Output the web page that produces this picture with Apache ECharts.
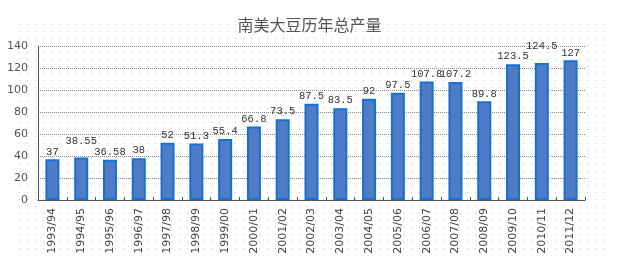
<!DOCTYPE html>
<html><head><meta charset="utf-8">
<script src="https://cdn.jsdelivr.net/npm/echarts@6/dist/echarts.min.js"></script>
<style>html,body{margin:0;padding:0;background:#fff}#c{width:619px;height:258px}</style>
</head><body><div id="c"></div>
<script>
var categories = ['1993/94','1994/95','1995/96','1996/97','1997/98','1998/99','1999/00','2000/01','2001/02','2002/03','2003/04','2004/05','2005/06','2006/07','2007/08','2008/09','2009/10','2010/11','2011/12'];
var production = [37,38.55,36.58,38,52,51.3,55.4,66.8,73.5,87.5,83.5,92,97.5,107.8,107.2,89.8,123.5,124.5,127];
var yTicks = [0,20,40,60,80,100,120,140];

// raise the middle label of a cluster of three close values (avoids overlapping texts)
var raise = production.map(function(){ return false; });
for (var i = 1; i < production.length - 1; i++) {
  if (!raise[i - 1] && Math.abs(production[i] - production[i - 1]) < 4 && Math.abs(production[i] - production[i + 1]) < 4) {
    raise[i] = true;
  }
}

var pc = document.createElement('canvas');
pc.width = 8; pc.height = 7;
var g = pc.getContext('2d');
g.fillStyle = '#c8c8c8';
g.fillRect(3, 3, 1, 1);

var chart = echarts.init(document.getElementById('c'), null, {renderer: 'canvas'});
chart.setOption({
  backgroundColor: '#fff',
  animation: false,
  graphic: [{
    type: 'rect', z: -10, silent: true,
    shape: {x: 12, y: 18, width: 594, height: 234},
    style: {fill: {image: pc, repeat: 'repeat'}}
  }],
  title: {
    text: '南美大豆历年总产量',
    left: 'center', top: 12,
    textStyle: {fontFamily: 'Noto Sans CJK SC', fontSize: 16, fontWeight: 'normal', color: '#555'}
  },
  grid: {left: 38, right: 34, top: 46, bottom: 58, containLabel: false},
  xAxis: {
    type: 'category', data: categories,
    axisLine: {lineStyle: {color: '#555', width: 1}},
    axisTick: {show: true, inside: true, length: 3, lineStyle: {color: '#555'}},
    axisLabel: {rotate: 90, interval: 0, fontSize: 11, color: '#444', fontFamily: 'DejaVu Sans', margin: 8}
  },
  yAxis: {
    type: 'value', min: 0, max: 140, interval: 20,
    axisLine: {show: true, lineStyle: {color: '#555'}},
    axisTick: {show: false},
    splitLine: {lineStyle: {type: 'dotted', color: '#888', width: 1}},
    axisLabel: {fontSize: 11, color: '#555', fontFamily: 'DejaVu Sans', margin: 10,
      formatter: function(v){ return yTicks.indexOf(v) >= 0 ? String(v) : ''; }}
  },
  series: [{
    type: 'bar', data: production, barWidth: 14,
    itemStyle: {color: '#4f7cc4', borderColor: '#1570d8', borderWidth: 2},
    label: {show: true, position: 'top', distance: 2, fontSize: 10.5, color: '#333', fontFamily: 'Liberation Mono'},
    labelLayout: function (p) { return raise[p.dataIndex] ? {dy: -9} : {}; }
  }]
});
</script></body></html>
